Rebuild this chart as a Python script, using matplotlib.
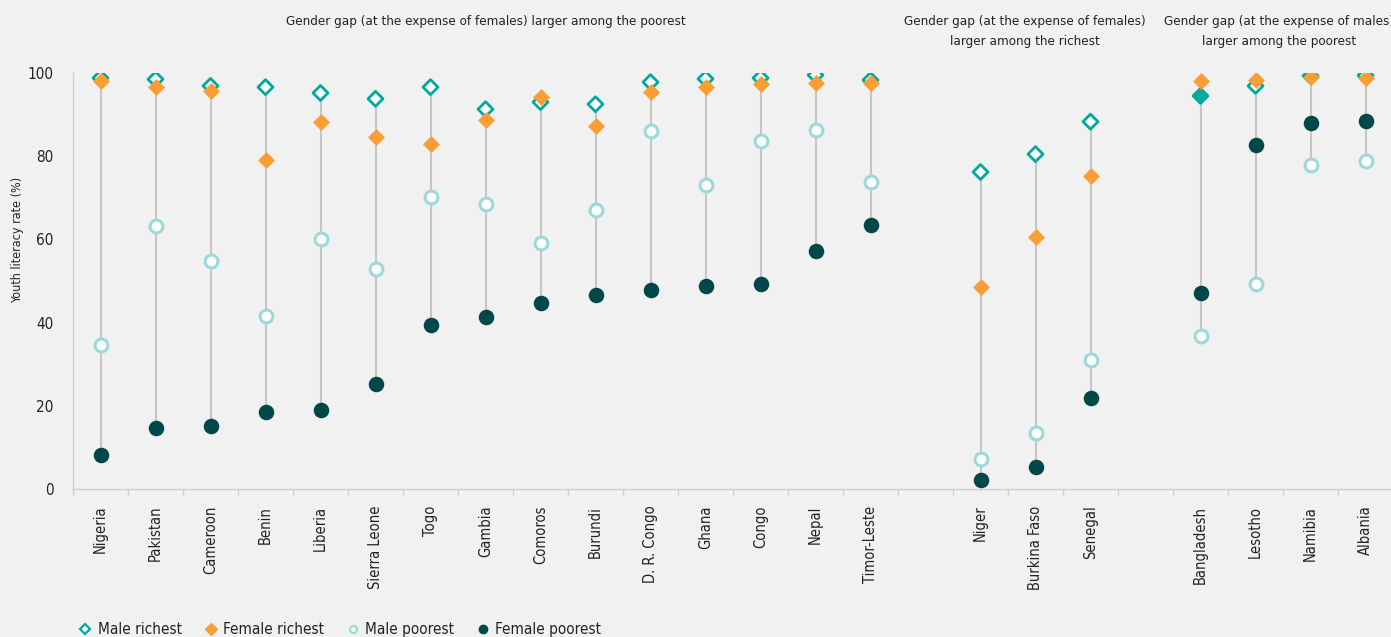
import numpy as np
import matplotlib
matplotlib.use("Agg")
import matplotlib.pyplot as plt
from matplotlib.lines import Line2D

# data (youth literacy rate, %)
group1 = ["Nigeria", "Pakistan", "Cameroon", "Benin", "Liberia", "Sierra Leone", "Togo",
          "Gambia", "Comoros", "Burundi", "D. R. Congo", "Ghana", "Congo", "Nepal", "Timor-Leste"]
group2 = ["Niger", "Burkina Faso", "Senegal"]
group3 = ["Bangladesh", "Lesotho", "Namibia", "Albania"]

male_richest = [98.8, 98.5, 96.9, 96.6, 95.2, 93.8, 96.6, 91.3, 93.0, 92.5, 97.8, 98.6, 98.8, 99.5, 98.3,
                76.2, 80.5, 88.3,
                94.5, 96.9, 99.3, 99.4]
female_richest = [98.0, 96.6, 95.7, 79.1, 88.2, 84.6, 82.9, 88.7, 94.2, 87.3, 95.4, 96.7, 97.4, 97.6, 97.6,
                  48.6, 60.6, 75.2,
                  98.0, 98.4, 99.0, 98.7]
male_poorest = [34.6, 63.2, 54.8, 41.6, 60.1, 52.9, 70.2, 68.5, 59.1, 67.1, 86.1, 73.1, 83.7, 86.3, 73.8,
                7.2, 13.5, 31.0,
                36.7, 49.2, 77.9, 78.8]
female_poorest = [8.2, 14.7, 15.1, 18.5, 19.0, 25.2, 39.4, 41.3, 44.7, 46.6, 47.8, 48.8, 49.3, 57.2, 63.5,
                  2.2, 5.3, 21.9,
                  47.1, 82.8, 88.0, 88.5]

titles = ["Gender gap (at the expense of females) larger among the poorest",
          "Gender gap (at the expense of females)\nlarger among the richest",
          "Gender gap (at the expense of males)\nlarger among the poorest"]

c_mr = "#00a99d"
c_fr = "#f99d35"
c_mp = "#9dd8db"
c_fp = "#00474a"
bg = "#f1f1f1"

plt.rcParams['font.family'] = ['DejaVu Sans']
plt.rcParams['font.stretch'] = 'condensed'

countries = group1 + group2 + group3
# positions with an empty slot between groups
pos = list(range(len(group1))) + \
      [len(group1) + 1 + i for i in range(len(group2))] + \
      [len(group1) + len(group2) + 2 + i for i in range(len(group3))]
pos = np.array(pos)

fig = plt.figure(figsize=(13.91, 6.37), dpi=100, facecolor=bg)
ax = fig.add_axes([73/1391, 148/637, 1320/1391, 416/637])
ax.set_facecolor(bg)

mr = np.array(male_richest); fr = np.array(female_richest)
mp = np.array(male_poorest); fp = np.array(female_poorest)
allv = np.vstack([mr, fr, mp, fp])
ax.vlines(pos, allv.min(axis=0), allv.max(axis=0), color="#c6c6c6", lw=1.5, zorder=1)

# Bangladesh male richest is drawn filled in the original
mr_face = ["white"] * len(countries)
mr_face[countries.index("Bangladesh")] = c_mr

ax.scatter(pos, mr, marker="D", s=58, facecolors=mr_face, edgecolors=c_mr, linewidths=2, zorder=3)
ax.scatter(pos, fr, marker="D", s=75, color=c_fr, linewidths=0, zorder=4)
ax.scatter(pos, mp, marker="o", s=85, facecolors="white", edgecolors=c_mp, linewidths=2.2, zorder=3)
ax.scatter(pos, fp, marker="o", s=125, color=c_fp, linewidths=0, zorder=3)

ax.set_xlim(-0.5, pos[-1] + 0.5)
ax.set_ylim(0, 100)
ax.set_yticks([0, 20, 40, 60, 80, 100])
ax.tick_params(axis="y", length=0, pad=14, labelsize=11, labelcolor="#222222")
ax.set_xticks(pos)
ax.set_xticklabels(countries, rotation=90, fontsize=10.5, color="#222222")
ax.set_xticks(np.arange(-0.5, pos[-1] + 1, 1), minor=True)
ax.tick_params(axis="x", which="major", length=0, pad=12)
ax.tick_params(axis="x", which="minor", length=4, color="#d0d0d0", width=1, direction="out")

for s in ["top", "right"]:
    ax.spines[s].set_visible(False)
for s in ["left", "bottom"]:
    ax.spines[s].set_color("#d0d0d0")
    ax.spines[s].set_linewidth(1)

fig.text(18/1391, 1 - 240/637, "Youth literacy rate (%)", rotation=90, ha="center", va="center",
         fontsize=9, color="#222222")

# group titles
t_y = 113.9
tkw = dict(ha="center", va="top", fontsize=9.6, color="#222222", linespacing=1.65)
ax.text(np.mean(pos[:len(group1)]), t_y, titles[0], **tkw)
g2 = pos[len(group1):len(group1) + len(group2)]
g3 = pos[len(group1) + len(group2):]
ax.text(np.mean(g2) - 0.2, t_y, titles[1], **tkw)
ax.text(np.mean(g3) - 0.08, t_y, titles[2], **tkw)

handles = [
    Line2D([], [], marker="D", ls="", ms=5, mfc="white", mec=c_mr, mew=1.6),
    Line2D([], [], marker="D", ls="", ms=6, color=c_fr),
    Line2D([], [], marker="o", ls="", ms=5, mfc="white", mec=c_mp, mew=1.6),
    Line2D([], [], marker="o", ls="", ms=6, color=c_fp),
]
labels = ["Male richest", "Female richest", "Male poorest", "Female poorest"]
fig.legend(handles, labels, loc="lower left", bbox_to_anchor=(64/1391, -0.022), ncol=4, frameon=False,
           fontsize=11, handlelength=1.0, handletextpad=0.3, columnspacing=1.4, labelcolor="#222222")

fig.savefig("out.png", dpi=100, facecolor=bg)
